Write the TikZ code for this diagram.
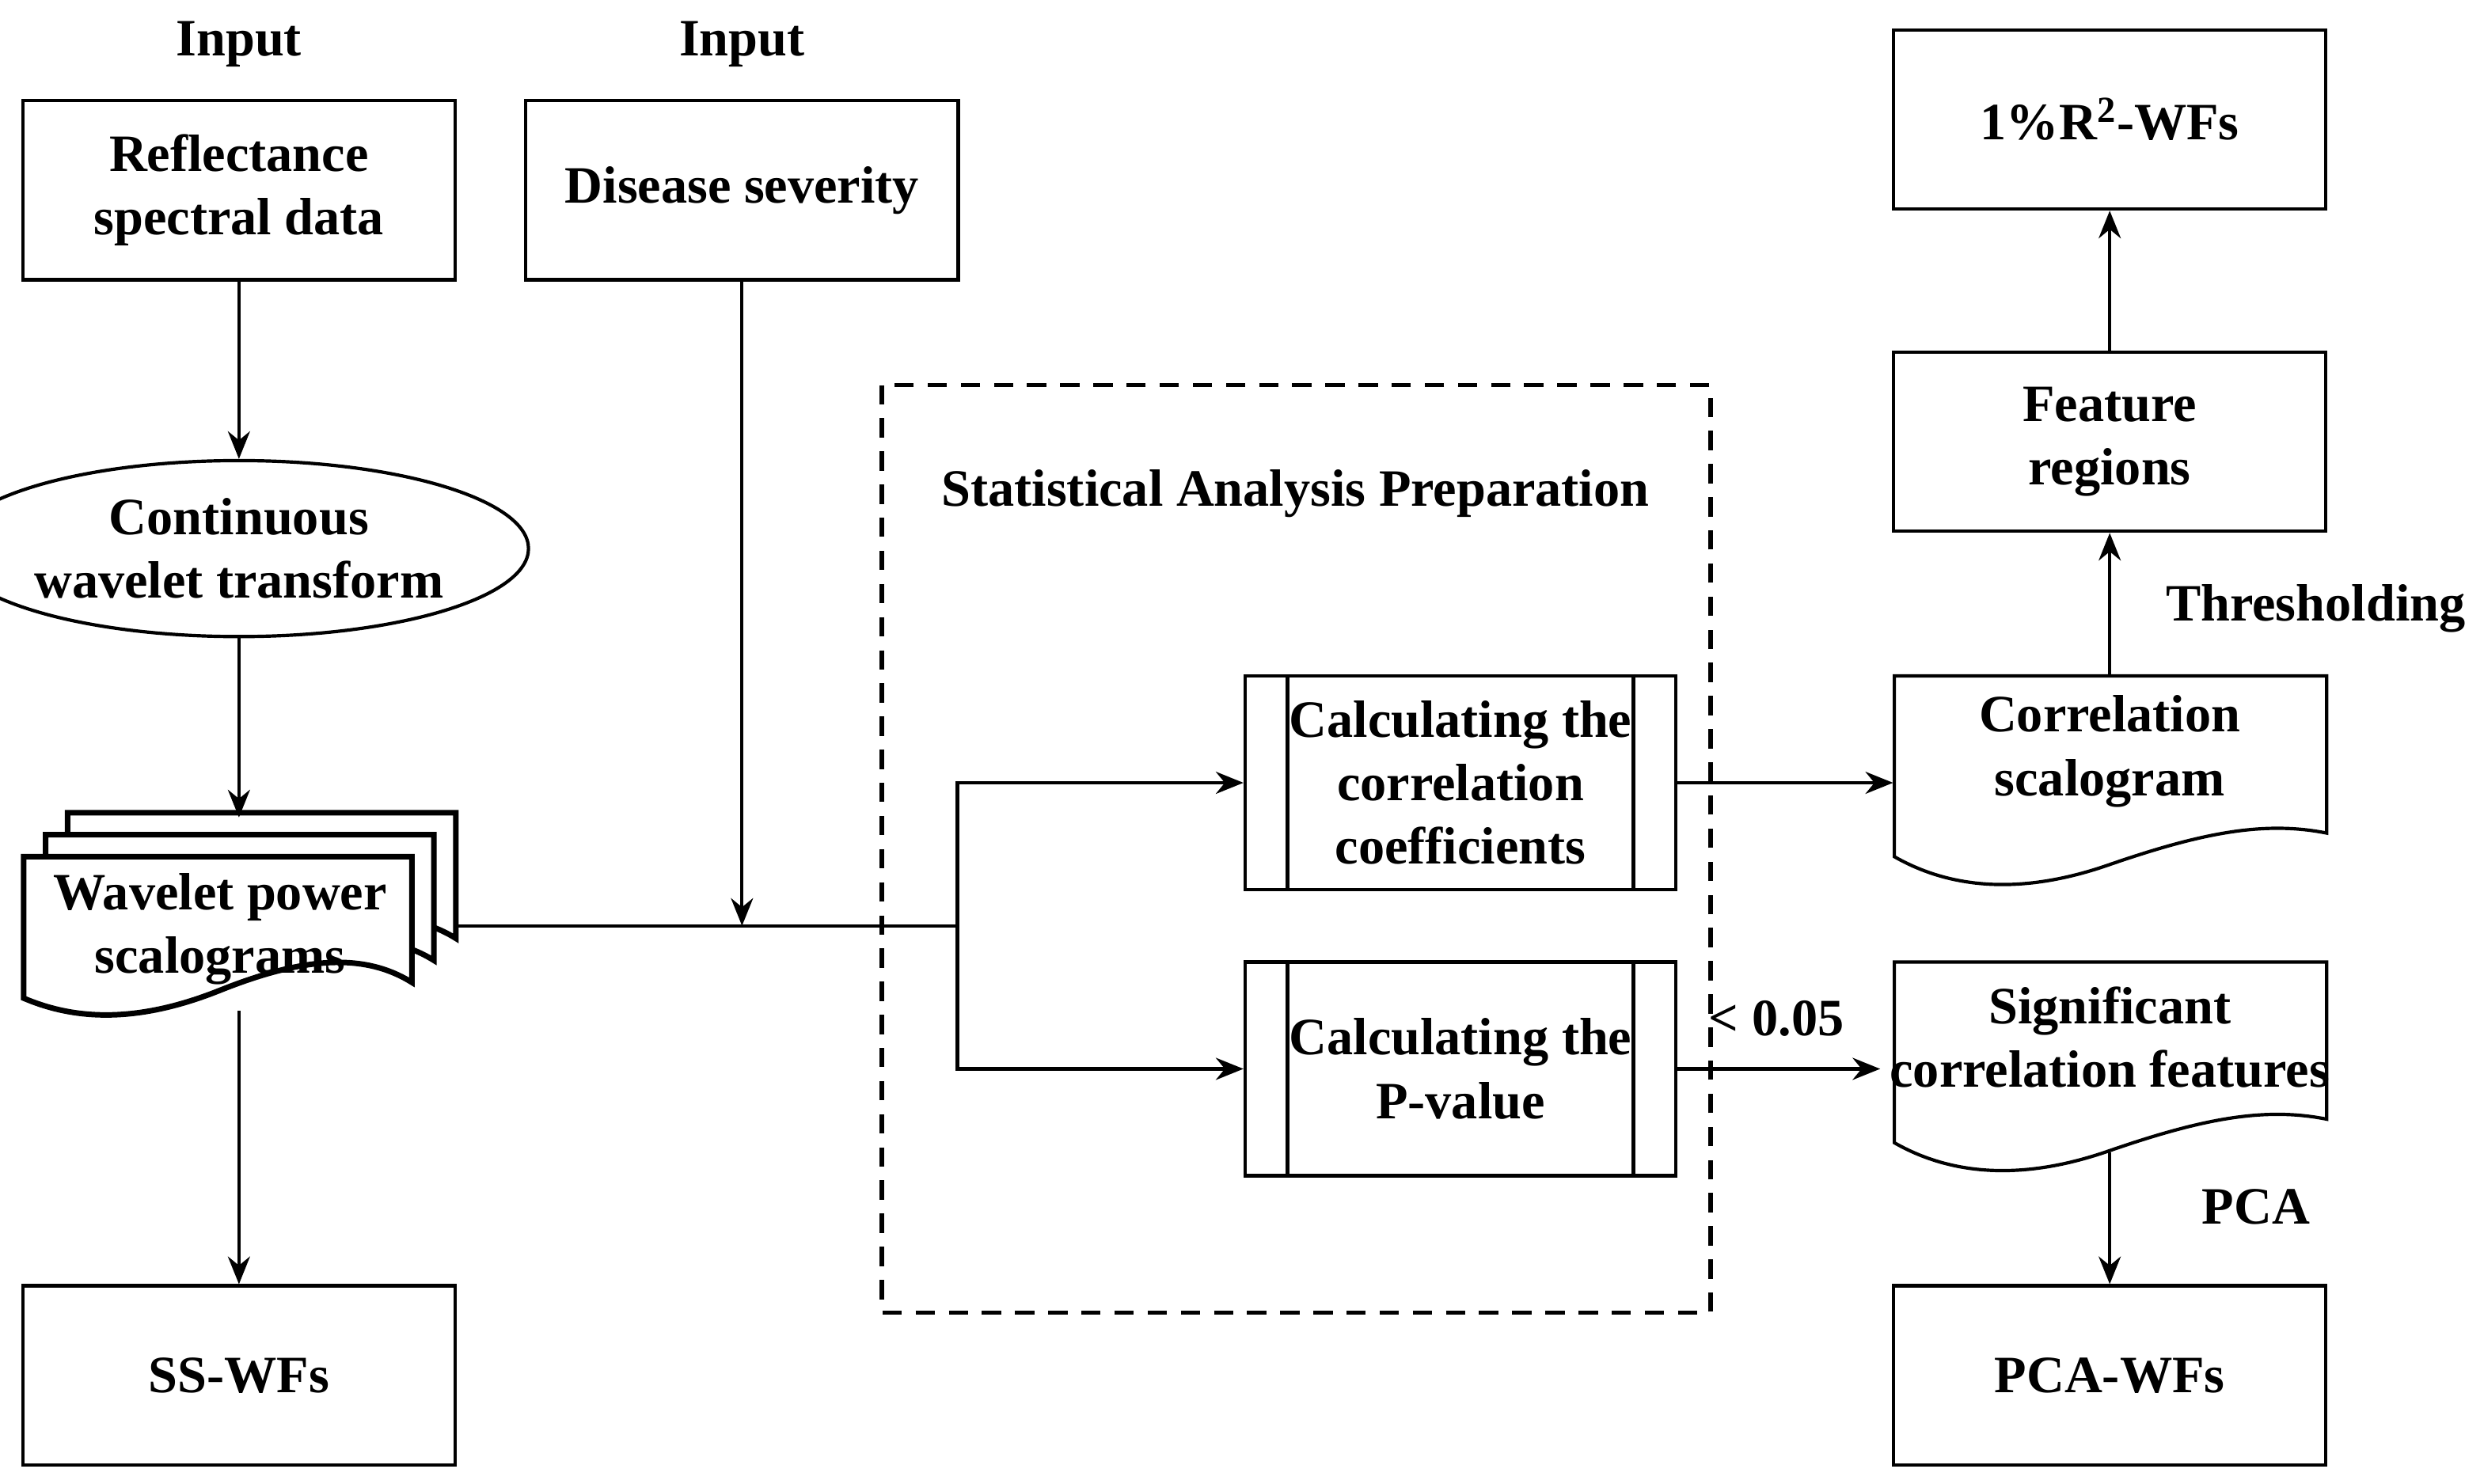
\documentclass[tikz,border=0pt]{standalone}
\usepackage{fontspec}
\setmainfont{Liberation Serif}
\usetikzlibrary{shapes.geometric,arrows.meta}
\begin{document}
\begin{tikzpicture}[x=0.02cm,y=-0.02cm,
  every node/.style={font=\fontsize{19}{23}\selectfont\bfseries, align=center},
  box/.style={draw, line width=1.2pt, minimum width=5.5cm, minimum height=2.28cm},
  proc/.style={draw, line width=1.2pt, minimum width=5.48cm, minimum height=2.72cm},
  doc/.style={minimum width=5.5cm, minimum height=2.6cm},
  lbl/.style={},
  link/.style={line width=1.2pt, -{Stealth[length=10pt,width=8pt]}},
  line/.style={line width=1.2pt}
]
\useasboundingbox (0,0) rectangle (1568,944);

% inputs
\node[lbl] (in1) at (152,28) {Input};
\node[lbl] (in2) at (472,28) {Input};
\node[box] (refl) at (152,121) {Reflectance\\spectral data};
\node[box] (dis) at (472,121) {Disease severity};
\node[draw, ellipse, line width=1.2pt, minimum width=5.52cm, minimum height=2.24cm, inner sep=0pt] (cwt) at (152,349) {Continuous\\wavelet transform};

% multi-document
\foreach \d in {28,14,0}{
  \draw[line width=2pt, fill=white] (15+\d,545-\d) -- (262+\d,545-\d) -- (262+\d,625-\d)
    .. controls (230+\d,605-\d) and (190+\d,610-\d) .. (140+\d,630-\d)
    .. controls (90+\d,650-\d) and (50+\d,650-\d) .. (15+\d,635-\d) -- cycle;
}
\node (wps) at (140,591) {Wavelet power\\scalograms};
\coordinate (wpsr) at (290,589);
\coordinate (wpst) at (152,520);
\coordinate (wpsb) at (152,643);
\node[box] (ss) at (152,875) {SS-WFs};

% dashed region
\draw[line width=1.6pt, dash pattern=on 7pt off 5pt] (561,245) rectangle (1088,835);
\node[lbl] (sap) at (824,314) {Statistical Analysis Preparation};

\node[proc] (cc) at (929,498) {Calculating the\\correlation\\coefficients};
\draw[line] ([xshift=0.56cm]cc.north west) -- ([xshift=0.56cm]cc.south west);
\draw[line] ([xshift=-0.56cm]cc.north east) -- ([xshift=-0.56cm]cc.south east);
\node[proc] (pv) at (929,680) {Calculating the\\P-value};
\draw[line] ([xshift=0.56cm]pv.north west) -- ([xshift=0.56cm]pv.south west);
\draw[line] ([xshift=-0.56cm]pv.north east) -- ([xshift=-0.56cm]pv.south east);

% documents on the right
\foreach \y in {430,612}{
  \draw[line] (1205,\y) -- (1480,\y) -- (1480,\y+100)
    .. controls (1440,\y+92) and (1400,\y+100) .. (1342,\y+120)
    .. controls (1285,\y+140) and (1240,\y+135) .. (1205,\y+115) -- cycle;
}
\node[doc] (cs) at (1342,478) {Correlation\\scalogram};
\node[doc] (sig) at (1342,660) {Significant\\correlation features};
\coordinate (cst) at (1342,430);
\coordinate (sigb) at (1342,733);
\node[box] (fr) at (1342,281) {Feature\\regions};
\node[box] (r2) at (1342,76) {1\%R$^{\mathbf 2}$-WFs};
\node[box] (pca) at (1342,875) {PCA-WFs};
\node[lbl] (thr) at (1473,387) {Thresholding};
\node[lbl] (pcal) at (1435,768) {PCA};
\node[lbl] (p05) at (1130,648) {< 0.05};

% connectors
\coordinate (join) at (472,589);
\coordinate (split) at (609,589);
\draw[link] (refl) -- (cwt);
\draw[link] (cwt) -- (wpst);
\draw[link] (wpsb) -- (ss);
\draw[line] (wpsr) -- (split);
\draw[link] (dis) -- (join);
\draw[link] (split) |- (cc);
\draw[link] (split) |- (pv);
\draw[link] (cc) -- (cs.west |- cc);
\draw[link] (pv) -- (sig.west |- pv);
\draw[link] (cst) -- (fr);
\draw[link] (fr) -- (r2);
\draw[link] (sigb) -- (pca);
\end{tikzpicture}
\end{document}
